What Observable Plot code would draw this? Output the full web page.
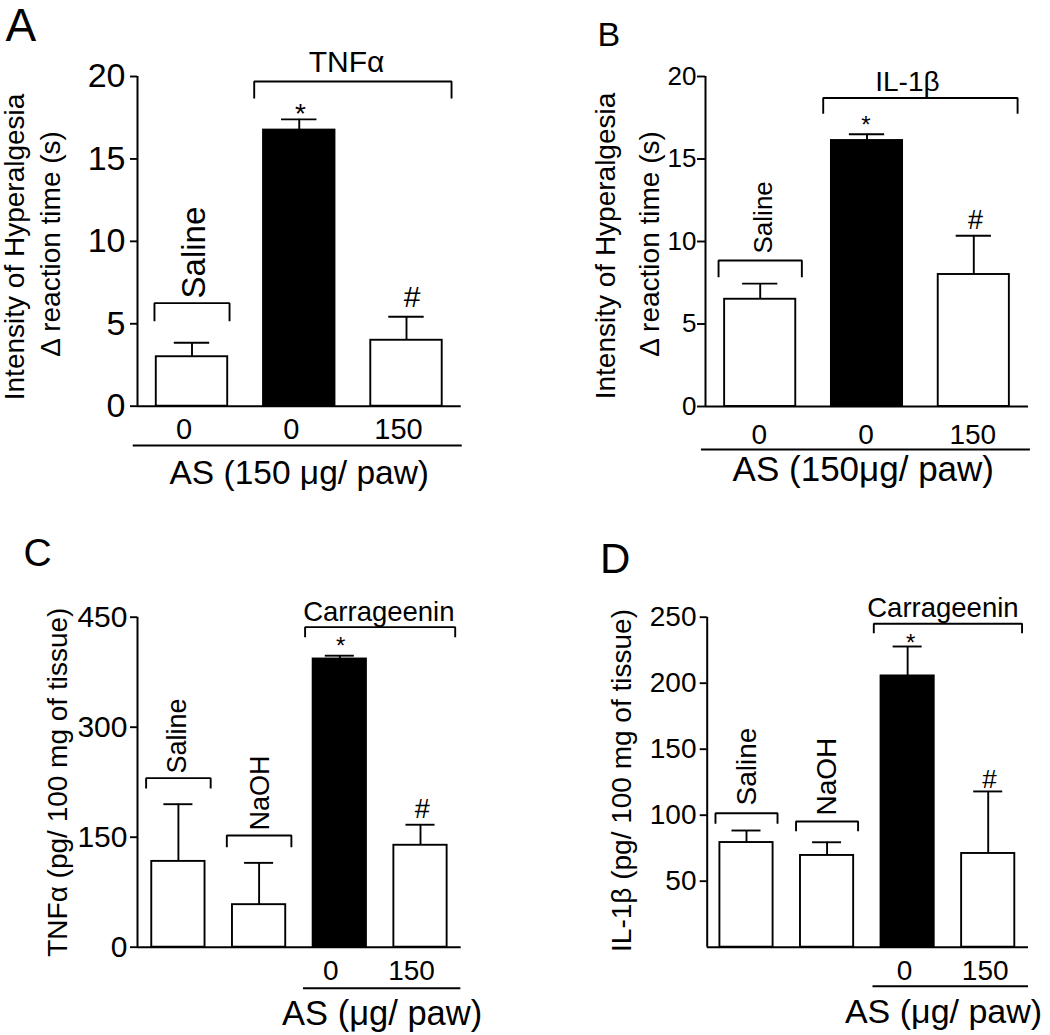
<!DOCTYPE html>
<html><head><meta charset="utf-8">
<script src="https://cdn.jsdelivr.net/npm/d3@7"></script>
<script src="https://cdn.jsdelivr.net/npm/@observablehq/plot@0.6"></script>
<style>
html,body{margin:0;padding:0;background:#fff;}
#fig{position:relative;width:1050px;height:1035px;overflow:hidden;background:#fff;}
#fig > div{position:absolute;}
</style></head><body><div id="fig"></div>
<script>
// ---------- DATA ----------
const vehicles = ["Saline", "NaOH"];

// Panel A: hyperalgesia, TNFα
const aGroups = ["Saline", "TNFα", "TNFα"];
const aDoses = ["0", "0", "150"];
const aMeans = [3.0, 16.75, 4.0];
const aSEM = [0.85, 0.65, 1.43];
const aSig = ["", "*", "#"];
const aTicks = [0, 5, 10, 15, 20];
const aBracketTop = {"Saline": 6.25, "TNFα": 19.7};
const aBracketEnd = {"Saline": 5.16, "TNFα": 18.67};

// Panel B: hyperalgesia, IL-1β
const bGroups = ["Saline", "IL-1β", "IL-1β"];
const bDoses = ["0", "0", "150"];
const bMeans = [6.5, 16.12, 8.0];
const bSEM = [0.95, 0.38, 2.35];
const bSig = ["", "*", "#"];
const bTicks = [0, 5, 10, 15, 20];
const bBracketTop = {"Saline": 8.85, "IL-1β": 18.7};
const bBracketEnd = {"Saline": 7.84, "IL-1β": 17.74};

// Panel C: TNFα levels
const cGroups = ["Saline", "NaOH", "Carrageenin", "Carrageenin"];
const cDoses = ["", "", "0", "150"];
const cMeans = [117, 58, 393, 139];
const cSEM = [78, 57, 4.5, 28];
const cSig = ["", "", "*", "#"];
const cTicks = [0, 150, 300, 450];
const cBracketTop = {"Saline": 230.5, "NaOH": 152.3, "Carrageenin": 436.4};
const cBracketEnd = {"Saline": 216.4, "NaOH": 136.4, "Carrageenin": 422.7};

// Panel D: IL-1β levels
const dGroups = ["Saline", "NaOH", "Carrageenin", "Carrageenin"];
const dDoses = ["", "", "0", "150"];
const dMeans = [79.3, 69.5, 205.5, 71];
const dSEM = [9.1, 10, 22.3, 47];
const dSig = ["", "", "*", "#"];
const dTicks = [50, 100, 150, 200, 250];
const dBracketTop = {"Saline": 101.5, "NaOH": 95.2, "Carrageenin": 245};
const dBracketEnd = {"Saline": 93.5, "NaOH": 87.9, "Carrageenin": 237.9};

const panels = [
  {letter: "A", groups: aGroups, doses: aDoses, means: aMeans, sem: aSEM, sig: aSig, ticks: aTicks, yMax: 20,
   bracketTop: aBracketTop, bracketEnd: aBracketEnd,
   yTitle: ["Intensity of Hyperalgesia", "Δ reaction time (s)"], xTitle: "AS (150 μg/ paw)"},
  {letter: "B", groups: bGroups, doses: bDoses, means: bMeans, sem: bSEM, sig: bSig, ticks: bTicks, yMax: 20,
   bracketTop: bBracketTop, bracketEnd: bBracketEnd,
   yTitle: ["Intensity of Hyperalgesia", "Δ reaction time (s)"], xTitle: "AS (150μg/ paw)"},
  {letter: "C", groups: cGroups, doses: cDoses, means: cMeans, sem: cSEM, sig: cSig, ticks: cTicks, yMax: 450,
   bracketTop: cBracketTop, bracketEnd: cBracketEnd,
   yTitle: ["TNFα (pg/ 100 mg of tissue)"], xTitle: "AS (μg/ paw)"},
  {letter: "D", groups: dGroups, doses: dDoses, means: dMeans, sem: dSEM, sig: dSig, ticks: dTicks, yMax: 250,
   bracketTop: dBracketTop, bracketEnd: dBracketEnd,
   yTitle: ["IL-1β (pg/ 100 mg of tissue)"], xTitle: "AS (μg/ paw)"}
];

// ---------- LAYOUT / STYLE ----------
const layouts = [
  {left: 0, top: 0, width: 520, height: 500, frame: [137, 460.7, 76, 405.7], c0: 191.5, step: 107.25,
   barHalf: 0.333, capHalf: 0.165, extSingle: 0.35, extMulti: 0.42, ul: {ext: [0.548, 0.52], dy: 39.3},
   yTick: {fontSize: 34, tickSize: 7, tickPadding: 5}, xTick: {fontSize: 29, tickPadding: 12, dx: -8},
   xTitle: {fontSize: 33.5, dx: 0, dy: 66.6}, yTitle: [{dx: -122.6, dy: 5.6}, {dx: -86, dy: 2.6}], yTitleSize: 28,
   letter: {fontSize: 46, dx: -132, dy: -68},
   labels: {"Saline": {dx: 2.5, dy: -4.7, fs: 33}, "TNFα": {dx: -6.4, dy: -19, fs: 30}},
   sigs: {"*": {dx: 1.2, dy: -5, fs: 28}, "#": {dx: 5.7, dy: -19, fs: 30}}},
  {left: 520, top: 0, width: 530, height: 500, frame: [705, 1028, 76, 406], c0: 759.7, step: 106.8,
   barHalf: 0.333, capHalf: 0.165, extSingle: 0.39, extMulti: 0.41, ul: {ext: [0.55, 0.53], dy: 43},
   yTick: {fontSize: 26, tickSize: 8, tickPadding: 1}, xTick: {fontSize: 28, tickPadding: 17.5, dx: -1},
   xTitle: {fontSize: 35, dx: -3.7, dy: 63.6}, yTitle: [{dx: -99, dy: 4.5}, {dx: -55.6, dy: 2.5}], yTitleSize: 28,
   letter: {fontSize: 34, dx: -108, dy: -54.3},
   labels: {"Saline": {dx: 3, dy: -7, fs: 26}, "IL-1β": {dx: -13, dy: -16.3, fs: 28}},
   sigs: {"*": {dx: -1, dy: -9, fs: 24}, "#": {dx: 1.7, dy: -15, fs: 27}}},
  {left: 0, top: 520, width: 520, height: 515, frame: [137, 460.7, 616.7, 946.7], c0: 177.9, step: 80.7,
   barHalf: 0.33, capHalf: 0.18, extSingle: 0.4, extMulti: 0.43, ul: {ext: [0.45, 0.5], dy: 41},
   yTick: {fontSize: 30, tickSize: 7, tickPadding: 3}, xTick: {fontSize: 28, tickPadding: 13.3, dx: -9},
   xTitle: {fontSize: 34.5, dx: 2, dy: 67}, yTitle: [{dx: -79, dy: 0}], yTitleSize: 28,
   letter: {fontSize: 39, dx: -114, dy: -78.7},
   labels: {"Saline": {dx: -1, dy: -4.7, fs: 27}, "NaOH": {dx: 1, dy: -5, fs: 27}, "Carrageenin": {dx: -1.3, dy: -14.7, fs: 27.5}},
   sigs: {"*": {dx: 0.8, dy: -9.2, fs: 24}, "#": {dx: 1.7, dy: -15.6, fs: 27}}},
  {left: 520, top: 520, width: 530, height: 515, frame: [706.7, 1028, 616.7, 946.7], c0: 746, step: 80.57,
   barHalf: 0.33, capHalf: 0.18, extSingle: 0.385, extMulti: 0.42, ul: {ext: [0.43, 0.5], dy: 39},
   yTick: {fontSize: 28, tickSize: 7, tickPadding: 3.7}, xTick: {fontSize: 28, tickPadding: 13.3, dx: -3},
   xTitle: {fontSize: 34, dx: -4.4, dy: 65.4}, yTitle: [{dx: -85, dy: -1.7}], yTitleSize: 28,
   letter: {fontSize: 42, dx: -107.2, dy: -73.7},
   labels: {"Saline": {dx: 1, dy: -7.7, fs: 28}, "NaOH": {dx: 0, dy: -6, fs: 28}, "Carrageenin": {dx: -5, dy: -15.3, fs: 27.5}},
   sigs: {"*": {dx: 3, dy: -3.1, fs: 24}, "#": {dx: 1.3, dy: -11.6, fs: 26}}}
];

const FONT = "'Liberation Sans', Arial, Helvetica, sans-serif";
const SW = 1.9;

function buildPanel(p, s) {
  const rows = p.means.map((m, i) => ({
    i, group: p.groups[i], dose: p.doses[i], mean: m, sem: p.sem[i], top: m + p.sem[i], sig: p.sig[i],
    black: !vehicles.includes(p.groups[i]) && p.doses[i] === "0"
  }));
  // brackets from consecutive runs of the same group
  const brackets = [];
  rows.forEach(d => {
    const last = brackets[brackets.length - 1];
    if (last && last.label === d.group) last.to = d.i;
    else brackets.push({label: d.group, from: d.i, to: d.i, top: p.bracketTop[d.group], end: p.bracketEnd[d.group]});
  });
  const bracketPts = [];
  brackets.forEach((b, k) => {
    const e = b.from === b.to ? s.extSingle : s.extMulti;
    bracketPts.push({id: k, x: b.from - e, y: b.end}, {id: k, x: b.from - e, y: b.top},
                    {id: k, x: b.to + e, y: b.top}, {id: k, x: b.to + e, y: b.end});
  });

  const xDomain = [(s.frame[0] - s.c0) / s.step, (s.frame[1] - s.c0) / s.step];
  const doseRows = rows.filter(d => d.dose !== "");
  const gFrom = doseRows[0].i, gTo = doseRows[doseRows.length - 1].i;

  const marks = [
    Plot.rect(rows.filter(d => !d.black), {x1: d => d.i - s.barHalf, x2: d => d.i + s.barHalf, y1: () => 0, y2: "mean",
      fill: "white", stroke: "black", strokeWidth: SW}),
    Plot.rect(rows.filter(d => d.black), {x1: d => d.i - s.barHalf, x2: d => d.i + s.barHalf, y1: () => 0, y2: "mean",
      fill: "black", stroke: "black", strokeWidth: SW}),
    Plot.ruleX(rows, {x: "i", y1: "mean", y2: "top", stroke: "black", strokeWidth: SW}),
    Plot.ruleY(rows, {y: "top", x1: d => d.i - s.capHalf, x2: d => d.i + s.capHalf, stroke: "black", strokeWidth: SW}),
    Plot.ruleX([xDomain[0]], {stroke: "black", strokeWidth: 2}),
    Plot.ruleY([0], {stroke: "black", strokeWidth: 2}),
    Plot.axisY({ticks: p.ticks, tickSize: s.yTick.tickSize, tickPadding: s.yTick.tickPadding, fontSize: s.yTick.fontSize,
      strokeWidth: SW, label: null, tickFormat: d => String(d), fill: "black", stroke: "black"}),
    Plot.axisX({ticks: doseRows.map(d => d.i), tickFormat: i => rows[i].dose, tickSize: 0,
      tickPadding: s.xTick.tickPadding, fontSize: s.xTick.fontSize, dx: s.xTick.dx, label: null, fill: "black"}),
    // line under the dose labels
    Plot.ruleY([0], {x1: () => gFrom - s.ul.ext[0], x2: () => gTo + s.ul.ext[1], dy: s.ul.dy, stroke: "black", strokeWidth: SW}),
    // x title
    Plot.text([p.xTitle], {x: () => (gFrom + gTo) / 2, frameAnchor: "bottom", text: d => d, textAnchor: "middle", lineAnchor: "middle",
      dx: s.xTitle.dx, dy: s.xTitle.dy, fontSize: s.xTitle.fontSize, fill: "black"}),
    // brackets
    Plot.line(bracketPts, {x: "x", y: "y", z: "id", stroke: "black", strokeWidth: SW, strokeLinejoin: "miter", strokeLinecap: "butt"}),
    // panel letter
    Plot.text([p.letter], {frameAnchor: "top-left", text: d => d, textAnchor: "start", lineAnchor: "top",
      dx: s.letter.dx, dy: s.letter.dy, fontSize: s.letter.fontSize, fill: "black"})
  ];
  // y titles
  p.yTitle.forEach((t, k) => {
    marks.push(Plot.text([t], {frameAnchor: "left", text: d => d, rotate: -90, textAnchor: "middle", lineAnchor: "middle",
      dx: s.yTitle[k].dx, dy: s.yTitle[k].dy, fontSize: s.yTitleSize, fill: "black"}));
  });
  // bracket labels
  brackets.forEach(b => {
    const o = s.labels[b.label];
    if (b.from === b.to) {
      marks.push(Plot.text([b], {x: d => d.from, y: "top", text: "label", rotate: -90, textAnchor: "start",
        lineAnchor: "middle", dx: o.dx, dy: o.dy, fontSize: o.fs, fill: "black"}));
    } else {
      marks.push(Plot.text([b], {x: d => (d.from + d.to) / 2, y: "top", text: "label", textAnchor: "middle", lineAnchor: "middle",
        dx: o.dx, dy: o.dy, fontSize: o.fs, fill: "black"}));
    }
  });
  // significance symbols
  rows.filter(d => d.sig).forEach(d => {
    const o = s.sigs[d.sig];
    marks.push(Plot.text([d], {x: "i", y: "top", text: "sig", textAnchor: "middle", lineAnchor: "middle", dx: o.dx, dy: o.dy,
      fontSize: o.fs, fill: "black"}));
  });

  return Plot.plot({
    width: s.width, height: s.height,
    marginLeft: s.frame[0] - s.left,
    marginRight: s.left + s.width - s.frame[1],
    marginTop: s.frame[2] - s.top,
    marginBottom: s.top + s.height - s.frame[3],
    x: {domain: xDomain},
    y: {domain: [0, p.yMax]},
    style: {fontFamily: FONT, background: "transparent", overflow: "visible", color: "black"},
    marks
  });
}

const fig = document.getElementById("fig");
panels.forEach((p, k) => {
  const s = layouts[k];
  const holder = document.createElement("div");
  holder.style.left = s.left + "px";
  holder.style.top = s.top + "px";
  holder.style.width = s.width + "px";
  holder.style.height = s.height + "px";
  holder.appendChild(buildPanel(p, s));
  fig.appendChild(holder);
});
</script>
</body></html>
